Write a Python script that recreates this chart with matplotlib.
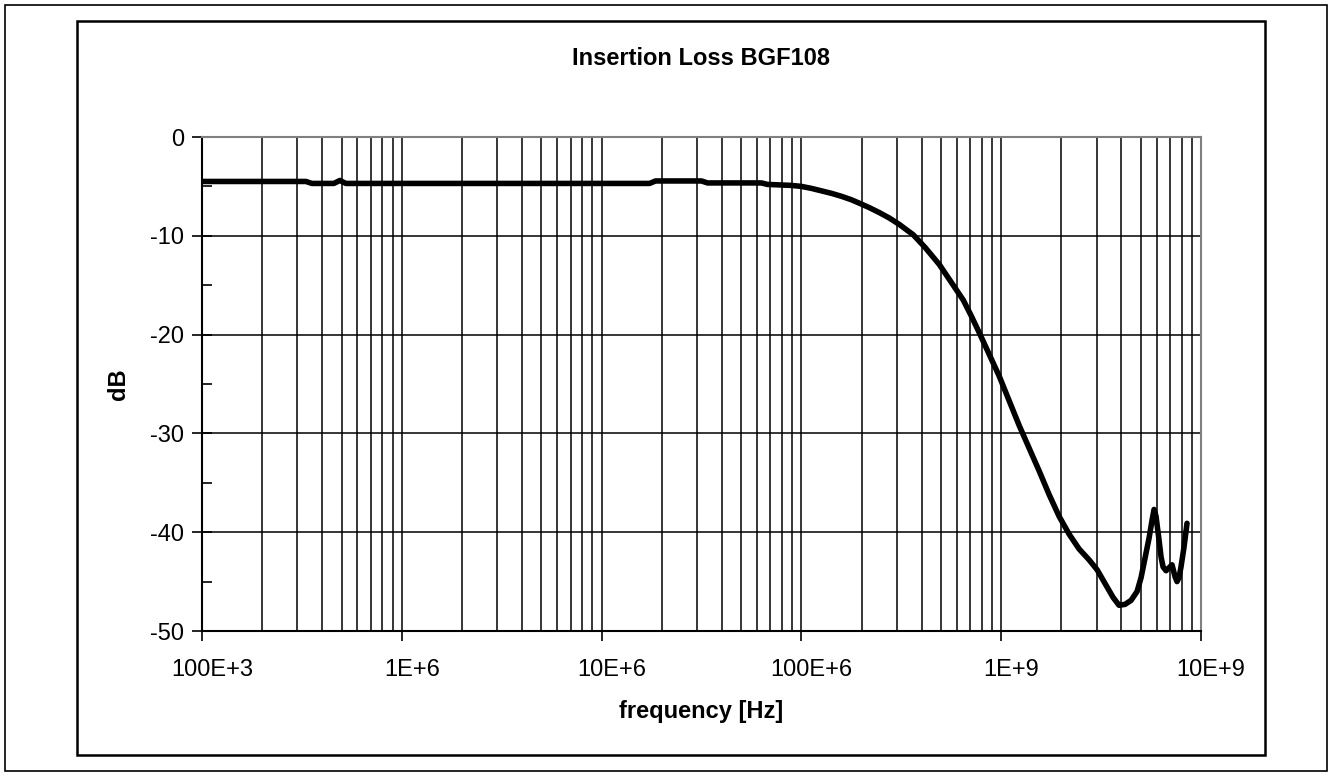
import numpy as np
import matplotlib
matplotlib.use("Agg")
from matplotlib import pyplot as plt
from matplotlib import ticker
from matplotlib import transforms
from matplotlib.patches import Rectangle

plt.rcParams['font.family'] = ['Liberation Sans', 'DejaVu Sans']
plt.rcParams['axes.unicode_minus'] = False

# log10(frequency in Hz) and insertion loss in dB
logFreq = [5.00, 5.30, 5.52, 5.55, 5.66, 5.69, 5.72, 6.00, 6.50, 7.00, 7.24, 7.27,
           7.50, 7.53, 7.80, 7.83, 7.95, 8.00, 8.05, 8.09, 8.15, 8.20, 8.25, 8.29,
           8.34, 8.39, 8.44, 8.49, 8.56, 8.62, 8.69, 8.75, 8.81, 8.85, 8.89, 8.94,
           8.99, 9.04, 9.09, 9.14, 9.19, 9.24, 9.29, 9.34, 9.39, 9.44, 9.48, 9.52,
           9.56, 9.59, 9.62, 9.65, 9.68, 9.70, 9.72, 9.74, 9.755, 9.765, 9.775, 9.79,
           9.80, 9.81, 9.825, 9.84, 9.855, 9.87, 9.88, 9.89, 9.90, 9.915, 9.93]
lossDb = [-4.5, -4.5, -4.5, -4.7, -4.7, -4.4, -4.7, -4.7, -4.7, -4.7, -4.7, -4.45,
          -4.45, -4.65, -4.65, -4.8, -4.9, -5.0, -5.2, -5.4, -5.7, -6.0, -6.35, -6.7,
          -7.15, -7.65, -8.2, -8.85, -9.9, -11.2, -12.9, -14.7, -16.5, -18.1, -19.8, -22.0,
          -24.2, -26.7, -29.2, -31.5, -33.8, -36.2, -38.4, -40.2, -41.7, -42.8, -43.8, -45.2,
          -46.6, -47.4, -47.3, -46.9, -46.0, -44.6, -42.6, -40.6, -38.8, -37.7, -38.4, -40.8,
          -42.5, -43.5, -43.9, -43.6, -43.3, -44.5, -45.0, -44.6, -43.5, -41.5, -39.1]

xTickVals = [1e5, 1e6, 1e7, 1e8, 1e9, 1e10]
xTickLabels = ['100E+3', '1E+6', '10E+6', '100E+6', '1E+9', '10E+9']
yTickVals = [0, -10, -20, -30, -40, -50]

fig = plt.figure(figsize=(13.29, 7.76), dpi=100)

#outer and inner frames of the chart
fig.patches.append(Rectangle((5/1329, 5/776), 1322/1329, 766/776, transform=fig.transFigure,
                             fill=False, edgecolor='black', linewidth=1.2))
fig.patches.append(Rectangle((77/1329, 21/776), 1188/1329, 734/776, transform=fig.transFigure,
                             fill=False, edgecolor='black', linewidth=1.8))

ax = fig.add_axes([202/1329, 1 - 631/776, 999/1329, 494/776])
freq = 10 ** np.array(logFreq)
ax.plot(freq, lossDb, color='black', linewidth=4.0, solid_joinstyle='round', solid_capstyle='round', zorder=3)

ax.set_xscale('log')
ax.set_xlim(1e5, 1e10)
ax.set_ylim(-50, 0)
ax.set_xticks(xTickVals)
ax.set_xticklabels(xTickLabels)
ax.xaxis.set_minor_locator(ticker.LogLocator(base=10, subs=np.arange(2, 10)))
ax.xaxis.set_minor_formatter(ticker.NullFormatter())
ax.set_yticks(yTickVals)
ax.yaxis.set_minor_locator(ticker.MultipleLocator(5))

ax.grid(which='major', axis='both', color='black', linewidth=1.1)
ax.grid(which='minor', axis='x', color='black', linewidth=1.1)

ax.tick_params(axis='x', which='major', direction='out', length=7, width=1.2, labelsize=17, pad=13)
ax.tick_params(axis='x', which='minor', length=0)
ax.tick_params(axis='y', which='major', direction='inout', length=14, width=1.2, labelsize=17, pad=6)
ax.tick_params(axis='y', which='minor', direction='in', length=7, width=1.2)

#x tick labels sit a little to the right of their ticks
shift = transforms.ScaledTranslation(10/100, 0, fig.dpi_scale_trans)
for lbl in ax.get_xticklabels():
    lbl.set_transform(lbl.get_transform() + shift)

for side in ['top', 'right']:
    ax.spines[side].set_color('#808080')
    ax.spines[side].set_linewidth(1.5)
for side in ['left', 'bottom']:
    ax.spines[side].set_color('black')
    ax.spines[side].set_linewidth(1.5)

ax.set_title('Insertion Loss BGF108', fontsize=17, fontweight='bold', pad=52)
ax.set_xlabel('frequency [Hz]', fontsize=17, fontweight='bold', labelpad=14)
ax.set_ylabel('dB', fontsize=17, fontweight='bold', labelpad=14)

fig.savefig('out.png', dpi=100)
